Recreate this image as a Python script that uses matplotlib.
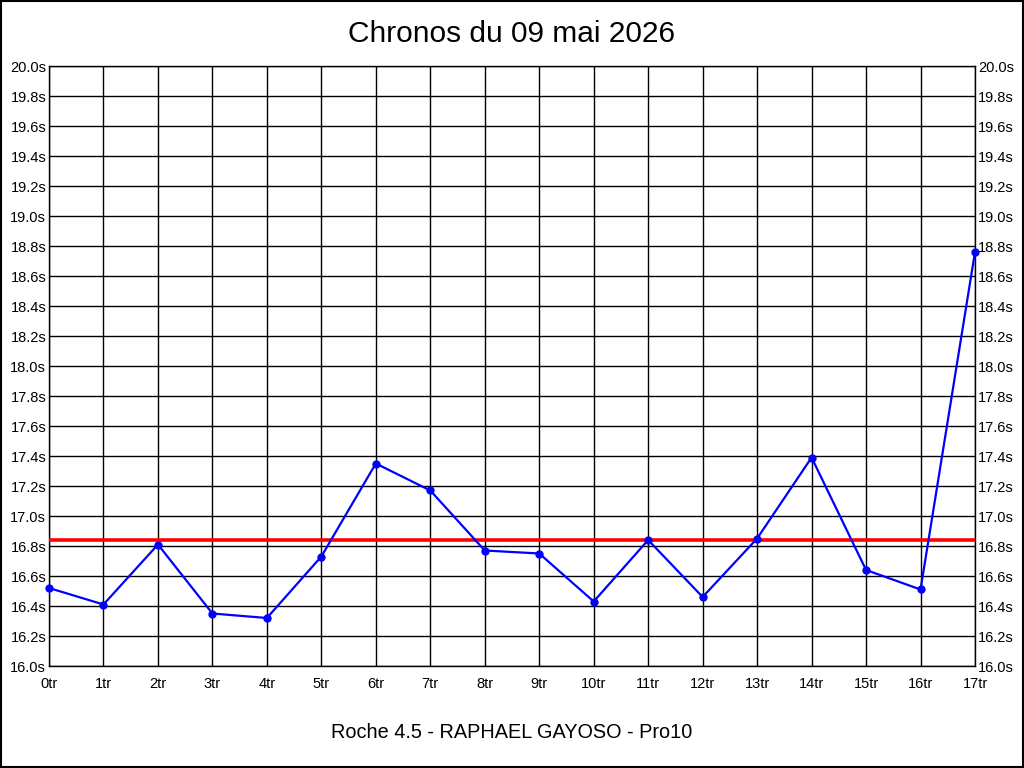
import numpy as np
import matplotlib
matplotlib.use('Agg')
from matplotlib import pyplot as plt
from matplotlib.patches import Rectangle

plt.rcParams['font.family'] = ['Liberation Sans', 'DejaVu Sans']

# tours et temps (secondes)
tours = list(range(18))
temps = [16.52, 16.41, 16.81, 16.35, 16.32, 16.73, 17.35, 17.17, 16.77,
         16.75, 16.43, 16.84, 16.46, 16.85, 17.39, 16.64, 16.51, 18.76]
moyenne = 16.84
x_labels = ['{}tr'.format(t) for t in tours]
y_ticks = [16.0 + 0.2 * i for i in range(21)]
y_labels = ['{:.1f}s'.format(v) for v in y_ticks]

titre = 'Chronos du 09 mai 2026'
sous_titre = 'Roche 4.5 - RAPHAEL GAYOSO - Pro10'

fig = plt.figure(figsize=(10.24, 7.68), dpi=100)
ax = fig.add_axes([49/1024, 1 - 666/768, (975-49)/1024, 600/768])

ax.plot(tours, temps, color='blue', linewidth=1.6, marker='o', markersize=5,
        zorder=4, clip_on=False)
ax.axhline(moyenne, color='red', linewidth=2.6, zorder=3)

ax.set_xlim(0, 17)
ax.set_ylim(16.0, 20.0)
ax.set_xticks(tours)
ax.set_xticklabels(x_labels)
ax.set_yticks(y_ticks)
ax.set_yticklabels(y_labels)
ax.tick_params(axis='both', length=0, labelsize=10.5, colors='black')
ax.tick_params(axis='y', pad=2, labelright=True, right=False)
ax.tick_params(axis='x', pad=8)
ax.grid(True, color='black', linewidth=1.0)
ax.set_axisbelow(True)
for s in ax.spines.values():
    s.set_linewidth(1.0)

fig.text(0.5, 1 - 34/768, titre, ha='center', va='center', fontsize=21.5)
fig.text(0.5, 1 - 733/768, sous_titre, ha='center', va='center', fontsize=14.3)

# cadre autour de l'image
fig.patches.append(Rectangle((0.0005, 0.0007), 0.999, 0.9986, transform=fig.transFigure,
                             fill=False, edgecolor='black', linewidth=1.5))

plt.savefig('out.png', dpi=100)
